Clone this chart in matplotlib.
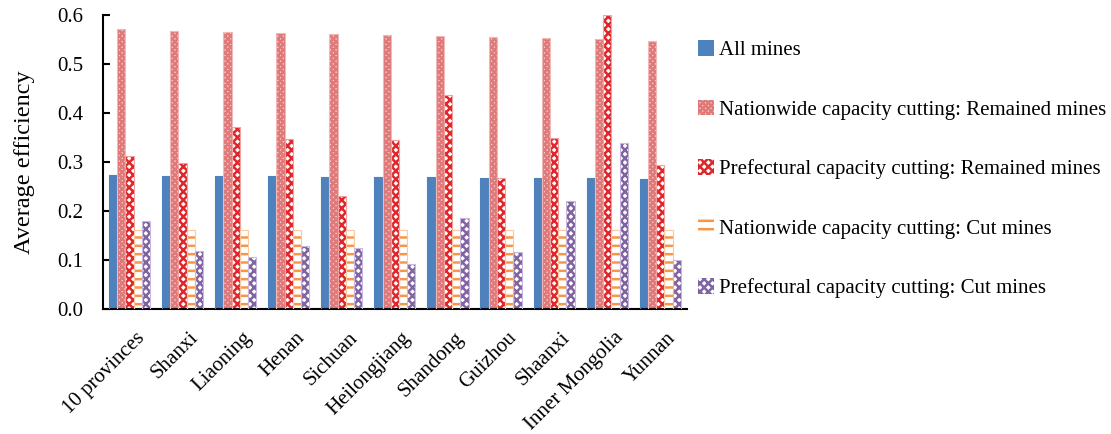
import matplotlib
matplotlib.use("Agg")
import matplotlib.pyplot as plt
import numpy as np

categories = ["10 provinces", "Shanxi", "Liaoning", "Henan", "Sichuan", "Heilongjiang",
              "Shandong", "Guizhou", "Shaanxi", "Inner Mongolia", "Yunnan"]
all_mines = [0.273, 0.272, 0.271, 0.271, 0.270, 0.270, 0.269, 0.268, 0.268, 0.267, 0.266]
nat_remained = [0.571, 0.568, 0.566, 0.564, 0.562, 0.560, 0.558, 0.556, 0.553, 0.551, 0.548]
pref_remained = [0.312, 0.299, 0.372, 0.347, 0.231, 0.346, 0.437, 0.267, 0.350, 0.600, 0.295]
nat_cut = [0.161, 0.161, 0.161, 0.161, 0.161, 0.161, 0.161, 0.161, 0.161, 0.161, 0.161]
pref_cut = [0.180, 0.119, 0.107, 0.129, 0.124, 0.091, 0.185, 0.116, 0.220, 0.338, 0.100]
yticks = [0.0, 0.1, 0.2, 0.3, 0.4, 0.5, 0.6]

labels = ["All mines",
          "Nationwide capacity cutting: Remained mines",
          "Prefectural capacity cutting: Remained mines",
          "Nationwide capacity cutting: Cut mines",
          "Prefectural capacity cutting: Cut mines"]

plt.rcParams['font.family'] = ['Liberation Serif', 'DejaVu Serif']
plt.rcParams['hatch.linewidth'] = 1.8

fig = plt.figure(figsize=(11.11, 4.34), dpi=100)
ax = fig.add_axes([0.0927, 0.288, 0.5255, 0.677])

x = np.arange(len(categories))
w = 0.155
offs = (np.arange(5) - 2) * w

series = [all_mines, nat_remained, pref_remained, nat_cut, pref_cut]
styles = [
    dict(facecolor="#4F81BD", edgecolor="#4F81BD", hatch=None, border="#4F81BD"),
    dict(facecolor="#F6D0D0", edgecolor="#E07A7A", hatch="xxxxxx", border="#F2B8B8"),
    dict(facecolor="#FFFFFF", edgecolor="#E0262A", hatch="xxxx", border="#F2A0A0"),
    dict(facecolor="#FFFFFF", edgecolor="#F79646", hatch="--", border="#FAC9A0"),
    dict(facecolor="#FFFFFF", edgecolor="#8064A2", hatch="xxxx", border="#C9B8DD"),
]

handles = []
for i, (vals, st) in enumerate(zip(series, styles)):
    b = ax.bar(x + offs[i], vals, w, facecolor=st["facecolor"], edgecolor=st["edgecolor"],
               hatch=st["hatch"], linewidth=0, zorder=2)
    ax.bar(x + offs[i], vals, w, facecolor="none", edgecolor=st["border"], linewidth=0.8, zorder=3)
    handles.append(b)

ax.set_xlim(-0.5, len(categories) - 0.5)
ax.set_ylim(0, 0.6)
ax.set_yticks(yticks)
ax.set_yticklabels([f"{t:.1f}" for t in yticks], fontsize=15)
ax.tick_params(axis='y', direction='in', length=5, width=1.5, pad=14)
ax.tick_params(axis='x', length=0, pad=14)
ax.set_xticks(x + 0.12)
ax.set_xticklabels(categories, rotation=45, ha='right', va='top', rotation_mode='anchor', fontsize=15)
for s in ['top', 'right']:
    ax.spines[s].set_visible(False)
ax.spines['left'].set_linewidth(1.5)
ax.spines['bottom'].set_linewidth(1.5)
ax.set_ylabel("Average efficiency", fontsize=17.5, labelpad=16)

fig.legend(handles, labels, loc='upper left', bbox_to_anchor=(0.621, 0.926),
           frameon=False, fontsize=15, handlelength=0.75, handleheight=0.75,
           handletextpad=0.25, labelspacing=1.9, borderaxespad=0)

fig.savefig("out.png", dpi=100)
